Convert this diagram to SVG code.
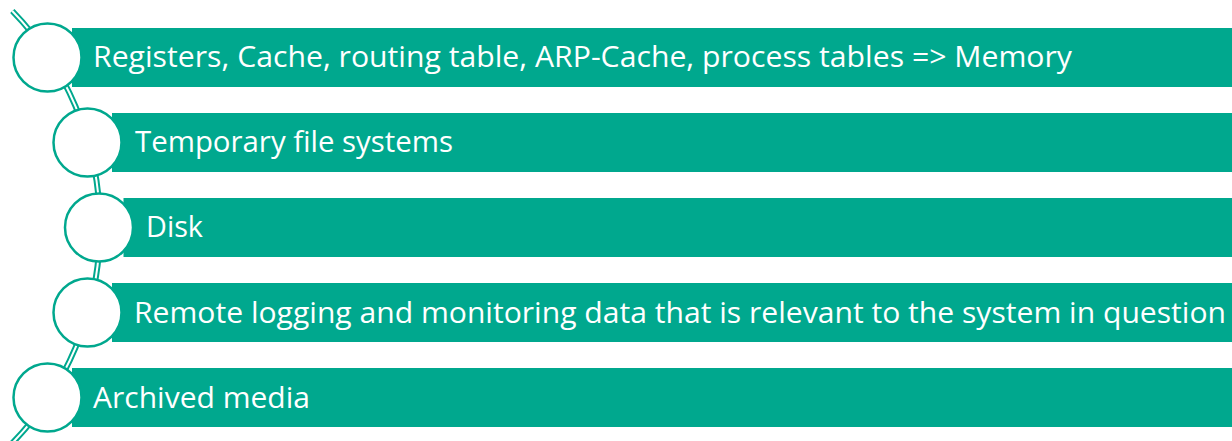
<svg xmlns="http://www.w3.org/2000/svg" width="1232" height="441" viewBox="0 0 1232 441">
  <style>
    .bar { fill: #00A88E; }
    .dot { fill: #FFFFFF; stroke: #00A88E; stroke-width: 2.5; }
    .label { fill: #FFFFFF; font-family: "Open Sans", "Noto Sans", "Liberation Sans", sans-serif; font-size: 29px; }
  </style>
  <rect width="1232" height="441" fill="#FFFFFF"/>

  <!-- curved spine: a double line along one circular arc -->
  <g id="connectors">
    <path d="M 12.3 11 A 310 310 0 0 1 12.3 443" fill="none" stroke="#00A88E" stroke-width="6"/>
    <path d="M 12.3 11 A 310 310 0 0 1 12.3 443" fill="none" stroke="#FFFFFF" stroke-width="2"/>
  </g>

  <g id="item1">
    <rect class="bar" x="72" y="28" width="1170" height="59"/>
    <circle class="dot" cx="47.5" cy="57.5" r="34"/>
    <text class="label" x="93" y="67" textLength="979" lengthAdjust="spacingAndGlyphs">Registers, Cache, routing table, ARP-Cache, process tables =&gt; Memory</text>
  </g>

  <g id="item2">
    <rect class="bar" x="112" y="113" width="1130" height="59"/>
    <circle class="dot" cx="87.5" cy="142.5" r="34"/>
    <text class="label" x="135" y="152" textLength="318" lengthAdjust="spacingAndGlyphs">Temporary file systems</text>
  </g>

  <g id="item3">
    <rect class="bar" x="123.5" y="198" width="1118" height="59"/>
    <circle class="dot" cx="99" cy="227.5" r="34"/>
    <text class="label" x="146" y="237" textLength="57" lengthAdjust="spacingAndGlyphs">Disk</text>
  </g>

  <g id="item4">
    <rect class="bar" x="112" y="283" width="1130" height="59"/>
    <circle class="dot" cx="87.5" cy="312.5" r="34"/>
    <text class="label" x="134" y="322.5" textLength="1092" lengthAdjust="spacingAndGlyphs">Remote logging and monitoring data that is relevant to the system in question</text>
  </g>

  <g id="item5">
    <rect class="bar" x="72" y="368" width="1170" height="59"/>
    <circle class="dot" cx="47.5" cy="397.5" r="34"/>
    <text class="label" x="93" y="407.5" textLength="217" lengthAdjust="spacingAndGlyphs">Archived media</text>
  </g>
</svg>
